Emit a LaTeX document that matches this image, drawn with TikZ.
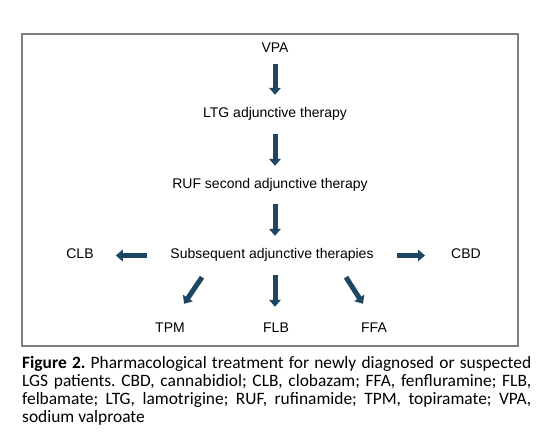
\documentclass[tikz,border=0pt]{standalone}
\usepackage{fontspec}
\setmainfont{Liberation Sans}
\newfontfamily\capfont{Carlito}
\usetikzlibrary{arrows.meta}
\definecolor{arrowblue}{RGB}{28,70,98}
\definecolor{framegray}{RGB}{128,128,128}
\begin{document}
\begin{tikzpicture}[x=1pt,y=1pt,
  lbl/.style={inner sep=0pt,text height=10pt,text depth=3pt,font=\fontsize{14}{16}\selectfont},
  blk/.style={draw=arrowblue,line width=5pt,-{Triangle[length=7pt,width=11.5pt]}}]
\useasboundingbox (0,0) rectangle (539,-438);
\fill[white] (0,0) rectangle (539,-438);
\draw[framegray,line width=1.2pt] (22,-34) rectangle (518,-346);
\node[lbl] (vpa) at (275,-49.5) {VPA};
\node[lbl] (ltg) at (275,-114.5) {LTG adjunctive therapy};
\node[lbl] (ruf) at (270,-185.5) {RUF second adjunctive therapy};
\node[lbl] (sub) at (272,-255.5) {Subsequent adjunctive therapies};
\node[lbl] (clb) at (80,-255.5) {CLB};
\node[lbl] (cbd) at (466,-255.5) {CBD};
\node[lbl] (tpm) at (170,-329.5) {TPM};
\node[lbl] (flb) at (276,-329.5) {FLB};
\node[lbl] (ffa) at (374,-329.5) {FFA};
\draw[blk] ([yshift=-8pt]vpa.south) -- ([yshift=13pt]ltg.north);
\draw[blk] ([yshift=-13pt]ltg.south) -- ([xshift=5pt,yshift=13pt]ruf.north);
\draw[blk] ([xshift=5pt,yshift=-12pt]ruf.south) -- ([xshift=3pt,yshift=13pt]sub.north);
\draw[blk] ([xshift=-23pt]sub.west) -- ([xshift=22pt]clb.east);
\draw[blk] ([xshift=23pt]sub.east) -- ([xshift=-26pt]cbd.west);
\draw[blk] ([xshift=-70pt,yshift=-15pt]sub.south) -- ([xshift=14pt,yshift=19pt]tpm.north);
\draw[blk] ([xshift=3pt,yshift=-13pt]sub.south) -- ([xshift=-1pt,yshift=16pt]flb.north);
\draw[blk] ([xshift=74pt,yshift=-15pt]sub.south) -- ([xshift=-11pt,yshift=19pt]ffa.north);
\node[anchor=base west,inner sep=0pt] (cap) at (22,-369) {\parbox[t]{509pt}{\frenchspacing\capfont\fontsize{17.4}{17.7}\selectfont
\textbf{Figure 2.} Pharmacological treatment for newly diagnosed or suspected\linebreak
LGS patients. CBD, cannabidiol; CLB, clobazam; FFA, fenfluramine; FLB,\linebreak
felbamate; LTG, lamotrigine; RUF, rufinamide; TPM, topiramate; VPA,\linebreak
sodium valproate}};
\end{tikzpicture}
\end{document}
